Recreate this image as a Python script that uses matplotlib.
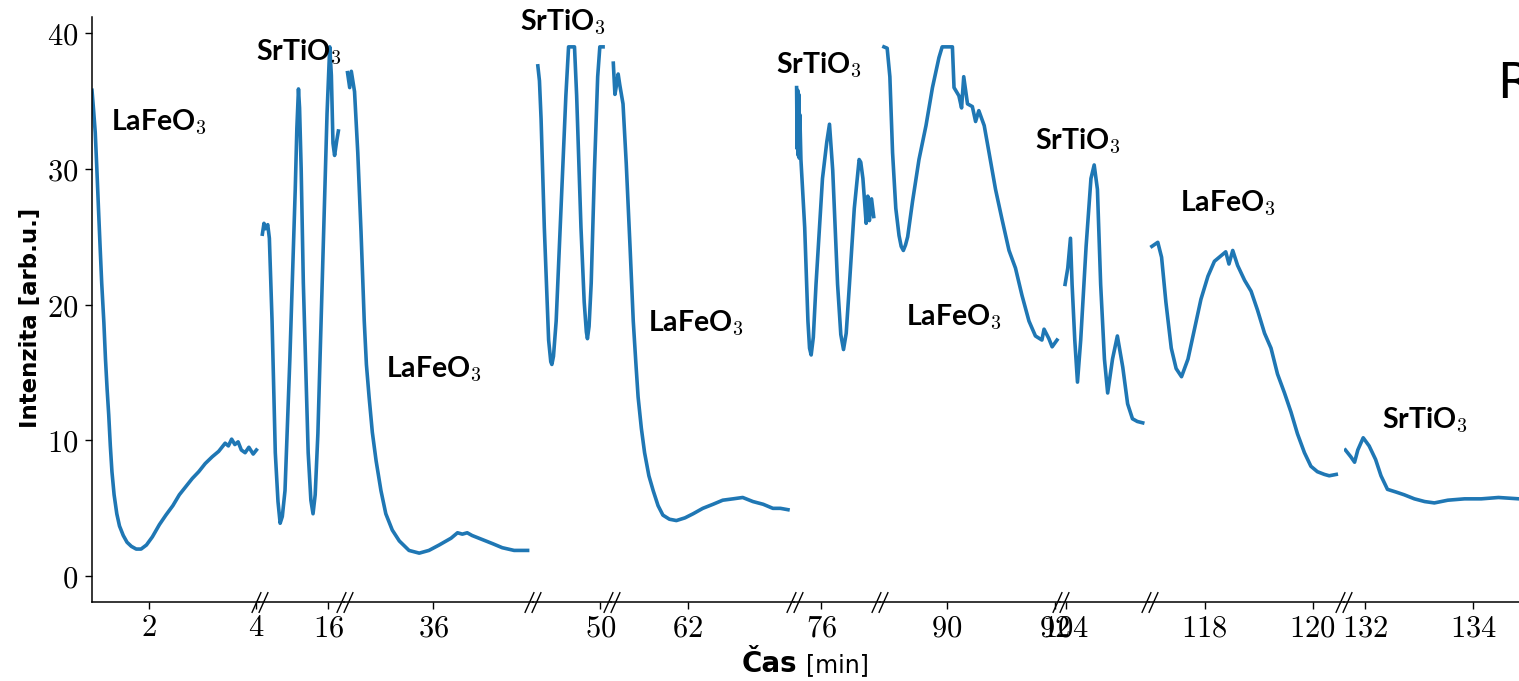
import matplotlib.pyplot as plt
from matplotlib.transforms import offset_copy

plt.rcParams['mathtext.fontset'] = 'cm'

# time [min] and intensity [arb.u.] for each recorded interval
t1 = [0.95, 0.98, 1.01, 1.04, 1.07, 1.10, 1.13, 1.17, 1.20, 1.23, 1.26, 1.29, 1.32, 1.36,
      1.41, 1.46, 1.53, 1.60, 1.68, 1.77, 1.86, 1.96, 2.07, 2.20, 2.32, 2.45, 2.57, 2.69,
      2.81, 2.93, 3.05, 3.18, 3.30, 3.42, 3.48, 3.54, 3.60, 3.66, 3.72, 3.79, 3.86, 3.94, 4.00]
i1 = [35.8, 34.3, 32.7, 30.0, 27.1, 24.3, 21.6, 18.7, 16.0, 13.8, 11.9, 9.6, 7.7, 6.0,
      4.6, 3.7, 3.0, 2.5, 2.2, 2.0, 2.0, 2.3, 2.9, 3.8, 4.5, 5.2, 6.0, 6.6,
      7.2, 7.7, 8.3, 8.8, 9.2, 9.8, 9.6, 10.1, 9.7, 9.9, 9.3, 9.1, 9.5, 9.0, 9.3]

t2 = [14.78, 14.81, 14.84, 14.88, 14.91, 14.96, 15.02, 15.07, 15.11, 15.15, 15.20, 15.29,
      15.39, 15.42, 15.45, 15.47, 15.50, 15.54, 15.63, 15.68, 15.72, 15.76, 15.81, 15.90,
      15.98, 16.03, 16.06, 16.09, 16.12, 16.16, 16.19]
i2 = [25.2, 26.0, 25.6, 25.9, 24.9, 18.8, 9.1, 5.5, 3.9, 4.4, 6.3, 16.0,
      28.5, 33.0, 35.9, 34.5, 30.0, 21.6, 9.1, 5.6, 4.6, 6.0, 10.5, 23.0,
      34.1, 39.0, 36.9, 31.9, 31.0, 32.1, 32.8]

t3 = [34.41, 34.45, 34.48, 34.54, 34.60, 34.66, 34.72, 34.76, 34.81, 34.87, 34.94, 35.03,
      35.12, 35.24, 35.37, 35.55, 35.74, 35.92, 36.11, 36.33, 36.45, 36.54, 36.63, 36.72,
      36.91, 37.10, 37.28, 37.50, 37.75]
i3 = [37.1, 36.0, 37.2, 35.7, 31.2, 25.4, 18.8, 15.6, 13.2, 10.6, 8.5, 6.3,
      4.6, 3.4, 2.6, 1.9, 1.7, 1.9, 2.3, 2.8, 3.2, 3.1, 3.2, 3.0,
      2.7, 2.4, 2.1, 1.9, 1.9]

t4 = [48.84, 48.87, 48.90, 48.96, 49.04, 49.08, 49.10, 49.13, 49.18, 49.27, 49.36, 49.41,
      49.46, 49.52, 49.56, 49.64, 49.70, 49.74, 49.76, 49.79, 49.83, 49.89, 49.95, 49.99, 50.05]
i4 = [37.6, 36.5, 33.7, 25.7, 17.4, 15.8, 15.6, 16.2, 18.8, 27.1, 35.4, 39.0,
      39.0, 39.0, 35.4, 25.7, 20.2, 18.0, 17.5, 18.4, 21.6, 29.9, 36.8, 39.0, 39.0]

t5 = [60.62, 60.65, 60.68, 60.71, 60.74, 60.80, 60.86, 60.93, 60.99, 61.04, 61.08, 61.14,
      61.20, 61.28, 61.36, 61.45, 61.54, 61.66, 61.79, 61.95, 62.10, 62.28, 62.47, 62.65,
      62.84, 63.02, 63.21, 63.40, 63.58, 63.72, 63.86]
i5 = [37.8, 35.5, 36.2, 37.0, 36.2, 34.8, 30.4, 24.3, 18.8, 15.6, 13.2, 10.9,
      9.1, 7.4, 6.3, 5.2, 4.5, 4.2, 4.1, 4.3, 4.6, 5.0, 5.3, 5.6,
      5.7, 5.8, 5.5, 5.3, 5.0, 5.0, 4.9]

t6 = [75.54, 75.55, 75.56, 75.57, 75.58, 75.59, 75.60, 75.62, 75.69, 75.75, 75.78, 75.81,
      75.85, 75.90, 76.02, 76.10, 76.15, 76.21, 76.30, 76.36, 76.41, 76.46, 76.52, 76.61,
      76.70, 76.73, 76.77, 76.83, 76.86, 76.89, 76.93, 76.97]
i6 = [36.0, 31.5, 35.8, 31.0, 35.5, 30.8, 34.0, 30.7, 25.7, 18.8, 16.8, 16.3,
      17.6, 21.5, 29.3, 32.0, 33.3, 29.9, 21.5, 17.8, 16.7, 17.9, 21.5, 27.1,
      30.7, 30.5, 29.3, 26.0, 28.0, 26.2, 27.8, 26.5]

t7 = [88.83, 88.89, 88.94, 88.99, 89.05, 89.11, 89.15, 89.19, 89.23, 89.27, 89.36, 89.48,
      89.61, 89.73, 89.85, 89.91, 90.00, 90.10, 90.13, 90.22, 90.27, 90.31, 90.38, 90.47,
      90.53, 90.59, 90.69, 90.78, 90.90, 91.02, 91.15, 91.27, 91.39, 91.52, 91.64, 91.76,
      91.80, 91.89, 91.95, 92.04]
i7 = [39.0, 38.9, 36.8, 31.2, 27.1, 25.1, 24.3, 24.0, 24.4, 25.0, 27.6, 30.7,
      33.2, 36.0, 38.2, 39.0, 39.0, 39.0, 36.0, 35.4, 34.5, 36.8, 34.8, 34.6,
      33.5, 34.3, 33.2, 31.2, 28.5, 26.3, 24.0, 22.7, 20.7, 18.8, 17.7, 17.4,
      18.2, 17.5, 16.9, 17.4]

t8 = [103.99, 104.04, 104.09, 104.12, 104.17, 104.22, 104.28, 104.38, 104.47, 104.53, 104.59,
      104.65, 104.72, 104.78, 104.87, 104.96, 105.06, 105.15, 105.24, 105.33, 105.43]
i8 = [21.5, 22.7, 24.9, 21.5, 17.4, 14.3, 17.4, 24.3, 29.3, 30.3, 28.5,
      21.5, 16.0, 13.5, 16.0, 17.7, 15.4, 12.7, 11.6, 11.4, 11.3]

t9 = [117.02, 117.13, 117.20, 117.28, 117.38, 117.47, 117.57, 117.69, 117.81, 117.93, 118.06,
      118.18, 118.30, 118.39, 118.45, 118.52, 118.61, 118.74, 118.86, 118.98, 119.11, 119.23,
      119.35, 119.48, 119.60, 119.72, 119.85, 119.97, 120.09, 120.22, 120.31, 120.44]
i9 = [24.3, 24.6, 23.5, 20.2, 16.8, 15.3, 14.7, 16.0, 18.2, 20.4, 22.1,
      23.2, 23.6, 23.9, 23.0, 24.0, 22.9, 21.8, 21.0, 19.6, 17.9, 16.8,
      14.9, 13.5, 12.1, 10.5, 9.1, 8.1, 7.7, 7.5, 7.4, 7.5]

t10 = [131.63, 131.73, 131.80, 131.86, 131.96, 132.07, 132.19, 132.29, 132.41, 132.57, 132.72,
       132.91, 133.10, 133.28, 133.53, 133.84, 134.15, 134.47, 134.85]
i10 = [9.3, 8.8, 8.4, 9.3, 10.2, 9.6, 8.6, 7.4, 6.4, 6.2, 6.0,
       5.7, 5.5, 5.4, 5.6, 5.7, 5.7, 5.8, 5.7]

times = [t1, t2, t3, t4, t5, t6, t7, t8, t9, t10]
intensities = [i1, i2, i3, i4, i5, i6, i7, i8, i9, i10]

# visible window and ticks of every piece of the broken time axis
limits = [(0.95, 4.05), (14.72, 16.3), (34.35, 37.85), (48.75, 50.2), (60.58, 63.98),
          (75.5, 77.08), (88.75, 92.1), (103.9, 105.55), (116.97, 120.58), (131.6, 134.85)]
ticks = [[2, 4], [16], [36], [50], [62], [76], [90, 92], [104], [118, 120], [132, 134]]

# phase labels: (segment, time, intensity, text)
labels = [
    (0, 1.30, 33.4, 'LaFeO$_3$'),
    (1, 14.67, 38.6, 'SrTiO$_3$'),
    (2, 35.13, 15.2, 'LaFeO$_3$'),
    (3, 48.50, 40.8, 'SrTiO$_3$'),
    (4, 61.26, 18.6, 'LaFeO$_3$'),
    (5, 75.15, 37.6, 'SrTiO$_3$'),
    (6, 89.24, 19.1, 'LaFeO$_3$'),
    (7, 103.44, 32.0, 'SrTiO$_3$'),
    (8, 117.54, 27.5, 'LaFeO$_3$'),
    (9, 132.30, 11.5, 'SrTiO$_3$'),
]

fig = plt.figure(figsize=(15.19, 6.81), dpi=100)
widths = [hi - lo for lo, hi in limits]
gs = fig.add_gridspec(1, len(limits), width_ratios=widths, wspace=0,
                      left=92 / 1519, right=1.0, bottom=1 - 602 / 681, top=1 - 17 / 681)

axes = []
for k, (lo, hi) in enumerate(limits):
    ax = fig.add_subplot(gs[0, k])
    ax.plot(times[k], intensities[k], color='#1f77b4', linewidth=2.6,
            solid_joinstyle='round')
    ax.set_xlim(lo, hi)
    ax.set_ylim(-1.9, 41.2)
    ax.set_xticks(ticks[k], labels=[f'${t}$' for t in ticks[k]])
    ax.tick_params(axis='x', labelsize=22, length=5, width=1, pad=3)
    ax.spines['top'].set_visible(False)
    ax.spines['right'].set_visible(False)
    ax.spines['bottom'].set_linewidth(1.1)
    if k == 0:
        ax.set_yticks([0, 10, 20, 30, 40], labels=[f'${v}$' for v in [0, 10, 20, 30, 40]])
        ax.tick_params(axis='y', labelsize=22, length=5, width=1, pad=5)
        ax.spines['left'].set_linewidth(1.1)
    else:
        ax.spines['left'].set_visible(False)
        ax.set_yticks([])
    ax.patch.set_visible(False)
    axes.append(ax)

# break marks "//" straddling each joint of the time axis
for k in range(len(axes) - 1):
    for ax, x, dx in [(axes[k], 1, -3.5), (axes[k + 1], 0, 3.5)]:
        tr = offset_copy(ax.transAxes, fig=fig, x=dx, y=0, units='dots')
        ax.plot([x], [0], transform=tr, marker=[(-0.45, -1), (0.45, 1)], markersize=15,
                color='k', mec='k', mew=1, linestyle='none', clip_on=False)

for k, x, y, text in labels:
    axes[k].text(x, y, text, fontsize=20.5, fontfamily='Lato', fontweight='bold',
                 va='center', ha='left', clip_on=False, zorder=5)

fig.text(31 / 1519, 1 - 318 / 681, 'Intenzita [arb.u.]', rotation=90, fontsize=16.5,
         fontweight='bold', ha='center', va='center')
fig.text(742 / 1519, 1 - 672 / 681, 'Čas', fontsize=20, fontweight='bold',
         ha='left', va='baseline')
fig.text(806 / 1519, 1 - 672 / 681, '[min]', fontsize=17, ha='left', va='baseline')
fig.text(1497 / 1519, 1 - 98 / 681, 'R', fontsize=36, ha='left', va='baseline')

fig.savefig('out.png', dpi=100)
